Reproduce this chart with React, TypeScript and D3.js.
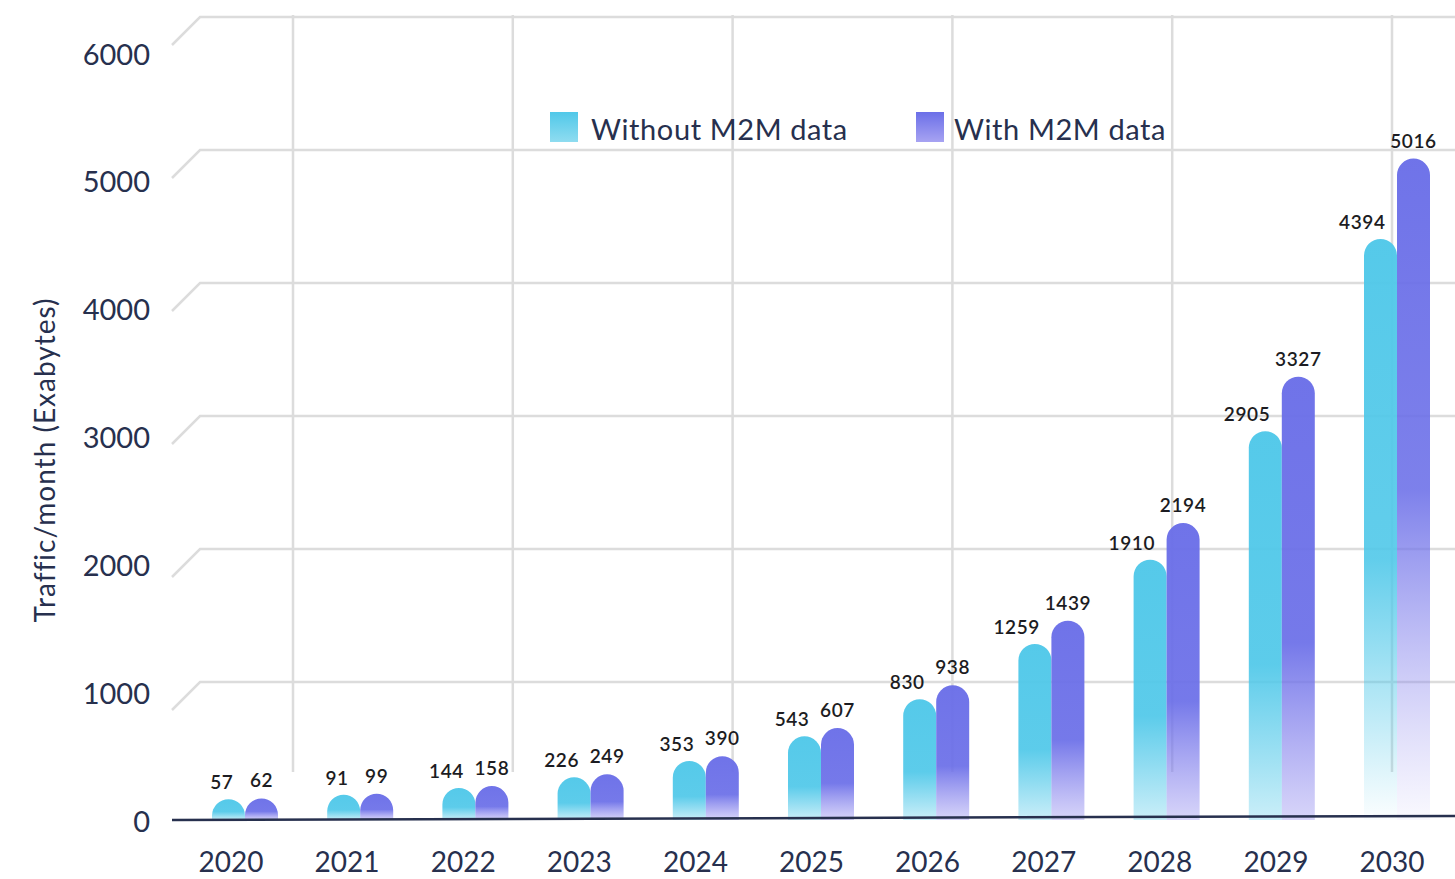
import React from "react";
import * as d3 from "d3";

const years = ["2020","2021","2022","2023","2024","2025","2026","2027","2028","2029","2030"];
const withoutM2M = [57, 91, 144, 226, 353, 543, 830, 1259, 1910, 2905, 4394];
const withM2M = [62, 99, 158, 249, 390, 607, 938, 1439, 2194, 3327, 5016];
const yTicks = [0, 1000, 2000, 3000, 4000, 5000, 6000];
const gridTicks = [1000, 2000, 3000, 4000, 5000, 6000];
const backColumns = [0, 1, 2, 3, 4, 5];
const seriesNames = ["Without M2M data", "With M2M data"];

const W = 1455, H = 879;
const CYAN = "#50c8e9";
const PURPLE = "#6b6fe8";
const TEXT = "#27304e";
const GRID = "#dcdcdc";
const FONT = "Lato, 'Open Sans', sans-serif";

export default function App() {
  const yScale = d3.scaleLinear().domain([0, 6000]).range([823, 48]);
  const tickY = d3.scaleLinear().domain([0, 6000]).range([820, 53]);
  const gridY = d3.scaleLinear().domain([0, 6000]).range([815, 17]);
  const gridX = d3.scaleLinear().domain([0, 5]).range([293, 1392]);
  const xBar = d3.scalePoint<string>().domain(years).range([245, 1397]);
  const xLabel = d3.scalePoint<string>().domain(years).range([231, 1392]);
  const bw = 33;
  const r = bw / 2;
  const base = 820;

  const barPath = (x0: number, v: number) => {
    const yt = yScale(v);
    const p = d3.path();
    p.moveTo(x0, base);
    p.lineTo(x0, yt);
    p.arc(x0 + r, yt, r, Math.PI, 0);
    p.lineTo(x0 + bw, base);
    p.closePath();
    return p.toString();
  };

  const last = years.length - 1;

  return (
    <svg width={W} height={H} style={{ position: "fixed", left: 0, top: 0, background: "#fff" }}>
      <defs>
        <linearGradient id="gC" x1="0" y1="0" x2="0" y2="1">
          <stop offset="0" stopColor={CYAN} stopOpacity={0.97} />
          <stop offset="0.6" stopColor={CYAN} stopOpacity={0.93} />
          <stop offset="1" stopColor={CYAN} stopOpacity={0.3} />
        </linearGradient>
        <linearGradient id="gP" x1="0" y1="0" x2="0" y2="1">
          <stop offset="0" stopColor={PURPLE} stopOpacity={0.97} />
          <stop offset="0.6" stopColor={PURPLE} stopOpacity={0.93} />
          <stop offset="1" stopColor="#8d86ee" stopOpacity={0.35} />
        </linearGradient>
        <linearGradient id="gCL" x1="0" y1="0" x2="0" y2="1">
          <stop offset="0" stopColor={CYAN} stopOpacity={0.97} />
          <stop offset="0.55" stopColor={CYAN} stopOpacity={0.9} />
          <stop offset="1" stopColor={CYAN} stopOpacity={0.02} />
        </linearGradient>
        <linearGradient id="gPL" x1="0" y1="0" x2="0" y2="1">
          <stop offset="0" stopColor={PURPLE} stopOpacity={0.97} />
          <stop offset="0.5" stopColor={PURPLE} stopOpacity={0.88} />
          <stop offset="1" stopColor="#9d95f0" stopOpacity={0.06} />
        </linearGradient>
        <linearGradient id="lC" x1="0" y1="0" x2="0" y2="1">
          <stop offset="0" stopColor={CYAN} />
          <stop offset="1" stopColor="#8fdcf0" />
        </linearGradient>
        <linearGradient id="lP" x1="0" y1="0" x2="0" y2="1">
          <stop offset="0" stopColor={PURPLE} />
          <stop offset="1" stopColor="#a7a3f2" />
        </linearGradient>
      </defs>

      {/* back-wall vertical grid */}
      {backColumns.map((i) => (
        <line key={"v" + i} x1={gridX(i)} x2={gridX(i)} y1={15} y2={772} stroke={GRID} strokeWidth={2.5} />
      ))}
      {/* perspective horizontal grid */}
      {gridTicks.map((t) => (
        <path
          key={"h" + t}
          d={`M172,${gridY(t) + 28} L200,${gridY(t)} L${W},${gridY(t)}`}
          fill="none"
          stroke={GRID}
          strokeWidth={2.5}
        />
      ))}

      {/* y tick labels */}
      {yTicks.map((t) => (
        <text
          key={"t" + t}
          x={150}
          y={tickY(t)}
          textAnchor="end"
          dominantBaseline="central"
          fontFamily={FONT}
          fontSize={29}
          fill={TEXT}
        >
          {t}
        </text>
      ))}

      {/* y axis title */}
      <text
        transform={`translate(55,${460}) rotate(-90)`}
        textAnchor="middle"
        fontFamily={FONT}
        fontSize={28}
        letterSpacing={1}
        fill={TEXT}
      >
        Traffic/month (Exabytes)
      </text>

      {/* bars */}
      {years.map((yr, i) => {
        const c = xBar(yr) as number;
        return (
          <g key={"b" + yr}>
            <path d={barPath(c - bw, withoutM2M[i])} fill={i === last ? "url(#gCL)" : "url(#gC)"} />
            <path d={barPath(c, withM2M[i])} fill={i === last ? "url(#gPL)" : "url(#gP)"} />
          </g>
        );
      })}

      {/* baseline */}
      <line x1={172} y1={820} x2={W} y2={816} stroke="#27304e" strokeWidth={2.5} />

      {/* value labels */}
      {years.map((yr, i) => {
        const c = xBar(yr) as number;
        return (
          <g key={"l" + yr} fontFamily={FONT} fontSize={19} fontWeight={600} fill="#1c1c22" letterSpacing={0.6}>
            <text x={c - r + 5} y={yScale(withoutM2M[i]) - r - 10} textAnchor="end">
              {withoutM2M[i]}
            </text>
            <text x={c + r} y={yScale(withM2M[i]) - r - 11} textAnchor="middle">
              {withM2M[i]}
            </text>
          </g>
        );
      })}

      {/* x labels */}
      {years.map((yr) => (
        <text
          key={"x" + yr}
          x={xLabel(yr) as number}
          y={872}
          textAnchor="middle"
          fontFamily={FONT}
          fontSize={28}
          fill={TEXT}
        >
          {yr}
        </text>
      ))}

      {/* legend */}
      <rect x={550} y={112} width={28} height={30} fill="url(#lC)" />
      <text x={591} y={140} fontFamily={FONT} fontSize={29} letterSpacing={0.6} fill={TEXT}>
        {seriesNames[0]}
      </text>
      <rect x={916} y={112} width={28} height={30} fill="url(#lP)" />
      <text x={954} y={140} fontFamily={FONT} fontSize={29} letterSpacing={0.6} fill={TEXT}>
        {seriesNames[1]}
      </text>
    </svg>
  );
}
